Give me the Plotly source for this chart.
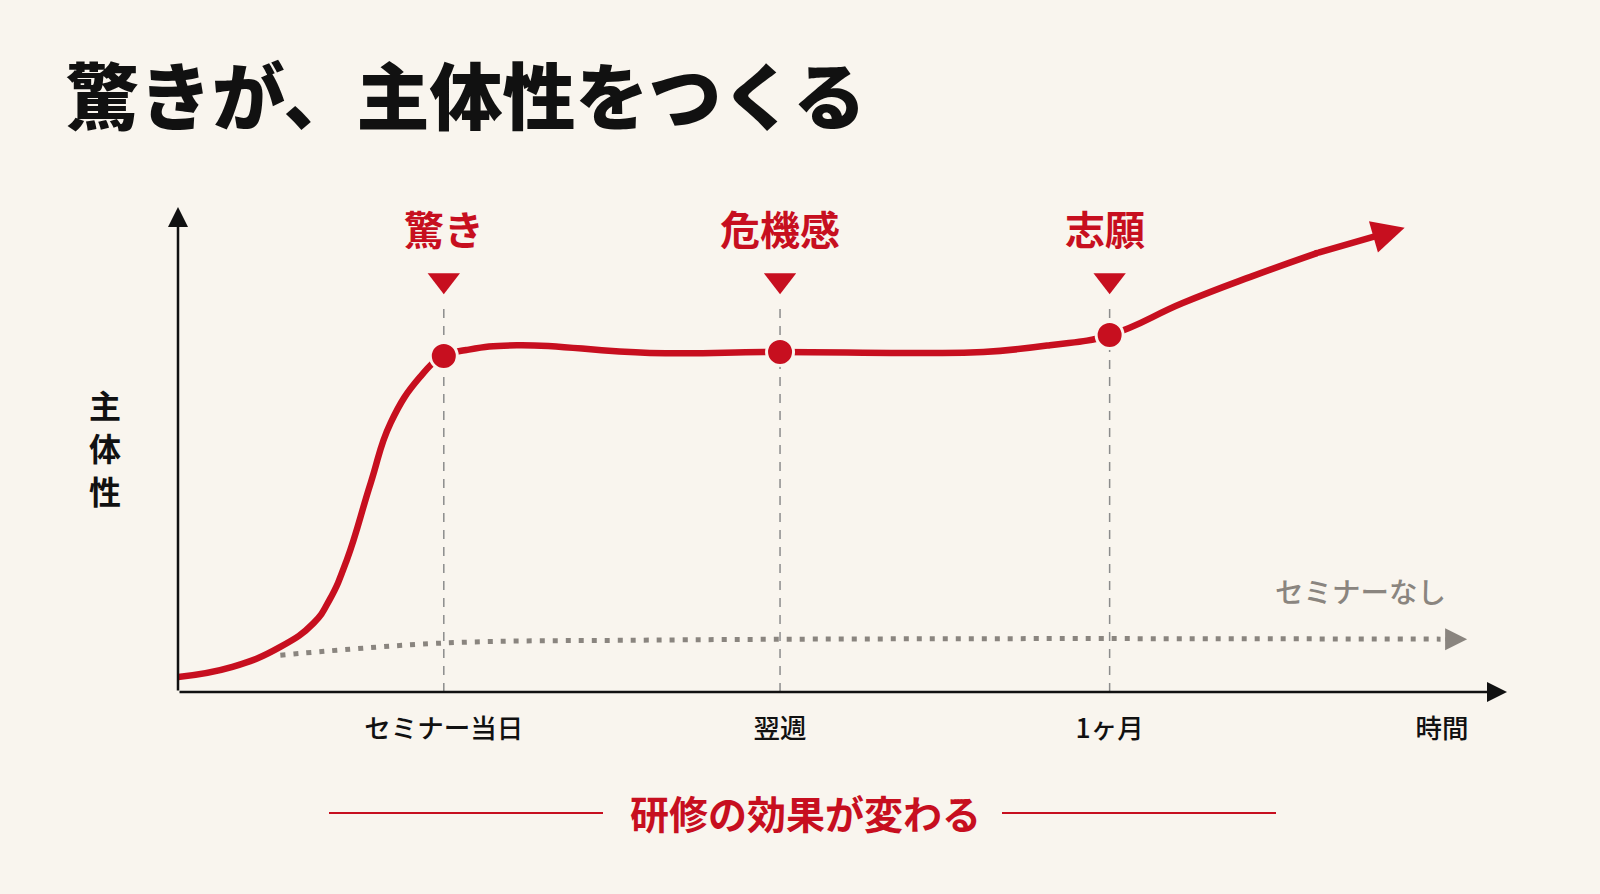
import plotly.graph_objects as go

# ---------------- data ----------------
title_text = "驚きが、主体性をつくる"
y_label = "主体性"
tick_labels = ["セミナー当日", "翌週", "1ヶ月", "時間"]
tick_x = [20.0, 45.3, 70.1, 95.1]
stage_labels = ["驚き", "危機感", "志願"]
stage_x = [20.0, 45.3, 70.1]
stage_y = [69.3, 70.1, 73.6]

# seminar curve (last point = arrow tip)
curve_x = [0.0, 4.1, 7.7, 10.2, 11.4, 12.7, 14.5, 16.0, 18.2,
           20.0, 21.7, 25.5, 35.5, 45.3, 55.0, 60.6, 65.6, 70.1, 75.6, 80.7, 85.7, 92.3]
curve_y = [3.1, 5.2, 9.3, 14.2, 19.0, 27.2, 43.1, 55.5, 64.9,
           69.3, 70.5, 71.5, 69.9, 70.1, 69.9, 70.1, 71.5, 73.6, 80.2, 85.6, 90.5, 95.7]

# no-seminar baseline (last point = arrow tip)
base_x = [7.7, 20.0, 35.5, 61.9, 95.0, 97.0]
base_y = [7.6, 10.1, 10.7, 11.0, 10.9, 10.9]
base_label = "セミナーなし"
bottom_text = "研修の効果が変わる"

# ---------------- style ----------------
BG = "#F9F5EE"
RED = "#C70F1F"
GRAY = "#8A857F"
DASH_GRAY = "#8C8C8C"
BLACK = "#111111"
FONT = "Noto Sans CJK JP, Noto Sans, sans-serif"

W, H = 1600, 894
L, R, T, B = 178, 93, 207, 202
PW, PH = W - L - R, H - T - B


def pxx(px):
    return (px - L) / PW


def pyy(py):
    return (H - B - py) / PH


fig = go.Figure()

# vertical dashed guides
for sx in stage_x:
    fig.add_shape(type="line", xref="x", yref="y", x0=sx, x1=sx, y0=0, y1=79.8,
                  line=dict(color=DASH_GRAY, width=1.5, dash="9px,8px"), layer="below")

# baseline dotted
fig.add_trace(go.Scatter(x=base_x[:-1], y=base_y[:-1], mode="lines",
                         line=dict(color=GRAY, width=5, dash="5px,8px", shape="spline"),
                         hoverinfo="skip"))

# seminar curve
fig.add_trace(go.Scatter(x=curve_x[:-1], y=curve_y[:-1], mode="lines",
                         line=dict(color=RED, width=6.5, shape="spline", smoothing=1.3),
                         hoverinfo="skip"))
# joint fill between curve and arrow segment
fig.add_trace(go.Scatter(x=[curve_x[-2]], y=[curve_y[-2]], mode="markers",
                         marker=dict(color=RED, size=6.5, line=dict(width=0)),
                         cliponaxis=False, hoverinfo="skip"))

# stage dots
fig.add_trace(go.Scatter(x=stage_x, y=stage_y, mode="markers",
                         marker=dict(color=RED, size=27, line=dict(color=BG, width=3)),
                         cliponaxis=False, hoverinfo="skip"))

# stage triangles
fig.add_trace(go.Scatter(x=stage_x, y=[84.9] * len(stage_x), mode="markers",
                         marker=dict(color=RED, size=28, symbol="triangle-down", line=dict(width=0)),
                         cliponaxis=False, hoverinfo="skip"))

annotations = []
# stage labels
for sx, lab, xs in zip(stage_x, stage_labels, [0, 0, -5]):
    annotations.append(dict(x=sx, y=95.7, xref="x", yref="y", text=lab, showarrow=False,
                            xshift=xs,
                            font=dict(family=FONT, size=40, color=RED, weight="bold"),
                            xanchor="center", yanchor="middle"))

# arrow heads
annotations.append(dict(x=curve_x[-1], y=curve_y[-1], ax=curve_x[-2], ay=curve_y[-2],
                        xref="x", yref="y", axref="x", ayref="y", text="", showarrow=True,
                        arrowhead=2, arrowwidth=6.5, arrowsize=1.0, arrowcolor=RED, standoff=0))
annotations.append(dict(x=base_x[-1], y=base_y[-1], ax=base_x[-1] - 1.75, ay=base_y[-1],
                        xref="x", yref="y", axref="x", ayref="y", text="", showarrow=True,
                        arrowhead=2, arrowwidth=4, arrowsize=1.1, arrowcolor=GRAY, standoff=0))
# axes drawn as arrows from the origin
annotations.append(dict(x=0, y=100, ax=0, ay=0, xref="x", yref="y", axref="x", ayref="y",
                        text="", showarrow=True, arrowhead=2, arrowwidth=2.5, arrowsize=1.6,
                        arrowcolor=BLACK, standoff=0))
annotations.append(dict(x=100, y=0, ax=0, ay=0, xref="x", yref="y", axref="x", ayref="y",
                        text="", showarrow=True, arrowhead=2, arrowwidth=2.5, arrowsize=1.6,
                        arrowcolor=BLACK, standoff=0))

# title
annotations.append(dict(x=pxx(64), y=pyy(92), xref="paper", yref="paper", text=title_text,
                        showarrow=False, xanchor="left", yanchor="middle",
                        font=dict(family=FONT, size=73, color=BLACK, weight=900)))
# y label (vertical, one character per line)
for ch, cy in zip(y_label, [404, 447, 490]):
    annotations.append(dict(x=pxx(105), y=pyy(cy), xref="paper", yref="paper",
                            text=ch, showarrow=False, xanchor="center", yanchor="middle",
                            font=dict(family=FONT, size=32, color=BLACK, weight="bold")))
# baseline label
annotations.append(dict(x=pxx(1360), y=pyy(590), xref="paper", yref="paper", text=base_label,
                        showarrow=False, xanchor="center", yanchor="middle",
                        font=dict(family=FONT, size=28.5, color=GRAY, weight=500)))
# bottom caption
annotations.append(dict(x=pxx(805), y=pyy(812), xref="paper", yref="paper", text=bottom_text,
                        showarrow=False, xanchor="center", yanchor="middle",
                        font=dict(family=FONT, size=39, color=RED, weight="bold")))
for x0, x1 in [(329, 603), (1002, 1276)]:
    fig.add_shape(type="line", xref="paper", yref="paper", x0=pxx(x0), x1=pxx(x1),
                  y0=pyy(813), y1=pyy(813), line=dict(color=RED, width=2))

fig.update_layout(
    width=W, height=H,
    margin=dict(l=L, r=R, t=T, b=B, pad=0),
    paper_bgcolor=BG, plot_bgcolor=BG,
    showlegend=False,
    annotations=annotations,
    xaxis=dict(range=[0, 100], showgrid=False, zeroline=False, showline=False,
               tickvals=tick_x, ticktext=tick_labels,
               ticks="", ticklabelstandoff=18,
               tickfont=dict(family=FONT, size=26.5, color=BLACK, weight=500), fixedrange=True),
    yaxis=dict(range=[0, 100], showgrid=False, zeroline=False, showline=False,
               showticklabels=False, ticks="", fixedrange=True),
)

fig.write_html("out.html", config={"displayModeBar": False},
               post_script="document.body.style.margin='0';document.body.style.overflow='hidden';")
